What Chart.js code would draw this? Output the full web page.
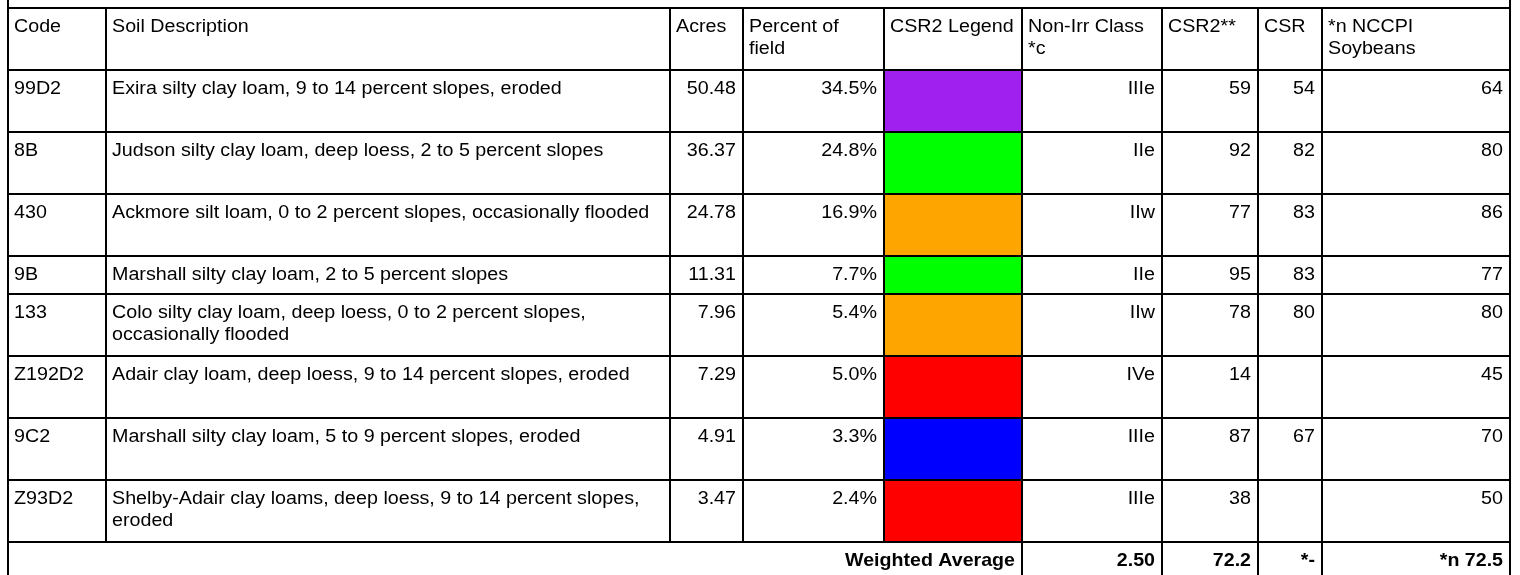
<!DOCTYPE html>
<html>
<head>
<meta charset="utf-8">
<script src="https://cdn.jsdelivr.net/npm/chart.js@4"></script>
<style>
  html, body { margin: 0; padding: 0; background: #fff; }
  #soilTable { display: block; }
</style>
</head>
<body>
<canvas id="soilTable" width="1520" height="575"></canvas>
<script>
// table data
const headers = ['Code', 'Soil Description', 'Acres', 'Percent of\nfield', 'CSR2 Legend', 'Non-Irr Class\n*c', 'CSR2**', 'CSR', '*n NCCPI\nSoybeans'];
const codes = ['99D2', '8B', '430', '9B', '133', 'Z192D2', '9C2', 'Z93D2'];
const descriptions = [
  'Exira silty clay loam, 9 to 14 percent slopes, eroded',
  'Judson silty clay loam, deep loess, 2 to 5 percent slopes',
  'Ackmore silt loam, 0 to 2 percent slopes, occasionally flooded',
  'Marshall silty clay loam, 2 to 5 percent slopes',
  'Colo silty clay loam, deep loess, 0 to 2 percent slopes,\noccasionally flooded',
  'Adair clay loam, deep loess, 9 to 14 percent slopes, eroded',
  'Marshall silty clay loam, 5 to 9 percent slopes, eroded',
  'Shelby-Adair clay loams, deep loess, 9 to 14 percent slopes,\neroded'
];
const acres = [50.48, 36.37, 24.78, 11.31, 7.96, 7.29, 4.91, 3.47];
const percents = [34.5, 24.8, 16.9, 7.7, 5.4, 5.0, 3.3, 2.4];
const legendColors = ['#a020f0', '#00ff00', '#ffa500', '#00ff00', '#ffa500', '#ff0000', '#0000ff', '#ff0000'];
const irrClasses = ['IIIe', 'IIe', 'IIw', 'IIe', 'IIw', 'IVe', 'IIIe', 'IIIe'];
const csr2 = [59, 92, 77, 95, 78, 14, 87, 38];
const csr = [54, 82, 83, 83, 80, null, 67, null];
const nccpi = [64, 80, 86, 77, 80, 45, 70, 50];
const avgLabel = 'Weighted Average';
const avgValues = ['2.50', '72.2', '*-', '*n 72.5'];

// layout (in scale units)
const colEdges = [8, 106, 670, 743, 884, 1022, 1162, 1258, 1322, 1510];
const rowEdges = [8, 70, 132, 194, 256, 294, 356, 418, 480, 542, 610];
const rightAligned = [false, false, true, true, false, true, true, true, true];
const FONT = '"Liberation Sans", Arial, sans-serif';
const SX = 1.125, SX_BOLD = 1.06;

const tablePlugin = {
  id: 'tablePlugin',
  afterDraw(chart) {
    const ctx = chart.ctx;
    const xs = chart.scales.x, ys = chart.scales.y;
    const X = v => xs.getPixelForValue(v);
    const Y = v => ys.getPixelForValue(v);

    // draws (possibly multi-line) text in a cell; right edge used when right aligned
    const text = (str, col, row, bold, right) => {
      const lines = String(str).split('\n');
      const top = Y(rowEdges[row]);
      ctx.font = (bold ? 'bold 18.5px ' : '17.5px ') + FONT;
      ctx.fillStyle = '#000';
      ctx.textBaseline = 'alphabetic';
      ctx.textAlign = 'left';
      const sx = bold ? SX_BOLD : SX;
      lines.forEach((ln, i) => {
        const w = ctx.measureText(ln).width * sx;
        const x = right ? X(colEdges[col + 1]) - 7 - w : X(colEdges[col]) + 6;
        ctx.save();
        ctx.translate(x, top + 24 + i * 21.5);
        ctx.scale(sx, 1);
        ctx.fillText(ln, 0, 0);
        ctx.restore();
      });
    };

    ctx.save();
    // legend cells
    legendColors.forEach((c, i) => {
      ctx.fillStyle = c;
      ctx.fillRect(X(colEdges[4]), Y(rowEdges[i + 1]), X(colEdges[5]) - X(colEdges[4]), Y(rowEdges[i + 2]) - Y(rowEdges[i + 1]));
    });

    headers.forEach((h, c) => text(h, c, 0, false, false));
    codes.forEach((code, i) => {
      const r = i + 1;
      text(code, 0, r, false, false);
      text(descriptions[i], 1, r, false, false);
      text(acres[i].toFixed(2), 2, r, false, true);
      text(percents[i].toFixed(1) + '%', 3, r, false, true);
      text(irrClasses[i], 5, r, false, true);
      text(csr2[i], 6, r, false, true);
      if (csr[i] !== null) text(csr[i], 7, r, false, true);
      text(nccpi[i], 8, r, false, true);
    });
    const avgRow = codes.length + 1;
    text(avgLabel, 4, avgRow, true, true);
    avgValues.forEach((v, k) => text(v, 5 + k, avgRow, true, true));

    // grid lines
    ctx.strokeStyle = '#000';
    ctx.lineWidth = 2;
    ctx.beginPath();
    for (let r = 0; r < rowEdges.length - 1; r++) {
      ctx.moveTo(X(colEdges[0]) - 1, Y(rowEdges[r]));
      ctx.lineTo(X(colEdges[colEdges.length - 1]) + 1, Y(rowEdges[r]));
    }
    [colEdges[0], colEdges[colEdges.length - 1]].forEach(c => {
      ctx.moveTo(X(c), Y(0));
      ctx.lineTo(X(c), Y(575));
    });
    colEdges.slice(1, -1).forEach((c, k) => {
      const bottom = k + 1 >= 5 ? 575 : rowEdges[avgRow];
      ctx.moveTo(X(c), Y(rowEdges[0]));
      ctx.lineTo(X(c), Y(bottom));
    });
    ctx.stroke();
    ctx.restore();
  }
};

new Chart(document.getElementById('soilTable').getContext('2d'), {
  type: 'scatter',
  data: { datasets: [{ data: [] }] },
  options: {
    responsive: false,
    devicePixelRatio: 1,
    animation: false,
    layout: { padding: 0 },
    scales: {
      x: { type: 'linear', min: 0, max: 1520, display: false },
      y: { type: 'linear', min: 0, max: 575, reverse: true, display: false }
    },
    plugins: { legend: { display: false }, tooltip: { enabled: false } }
  },
  plugins: [tablePlugin]
});
</script>
</body>
</html>
